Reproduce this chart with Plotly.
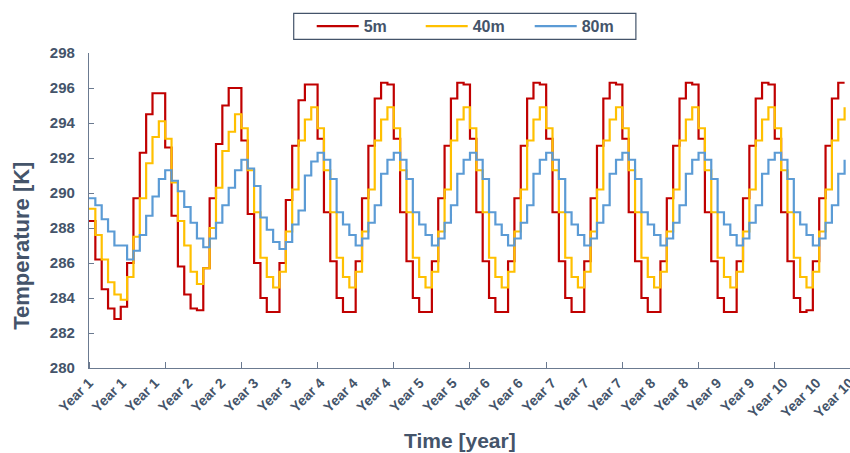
import plotly.graph_objects as go

# ---------------- data (monthly mean temperature, K) ----------------
series_names = ["5m", "40m", "80m"]

temp_5m = [
    288.4, 286.2, 284.5, 283.4, 282.8, 283.5, 286.0, 289.7, 292.3, 294.5, 295.7, 295.7,
    292.6, 288.7, 285.8, 284.2, 283.4, 283.3, 285.7, 289.7, 292.8, 295.0, 296.0, 296.0,
    293.0, 288.8, 286.0, 284.0, 283.2, 283.2, 286.0, 289.6, 292.7, 295.3, 296.2, 296.2,
    293.1, 288.9, 286.1, 284.0, 283.2, 283.2, 286.1, 289.7, 292.7, 295.4, 296.3, 296.2,
    293.1, 288.9, 286.1, 284.0, 283.2, 283.2, 286.1, 289.7, 292.7, 295.4, 296.3, 296.2,
    293.1, 288.9, 286.1, 284.0, 283.2, 283.2, 286.1, 289.7, 292.7, 295.4, 296.3, 296.2,
    293.1, 288.9, 286.1, 284.0, 283.2, 283.2, 286.1, 289.7, 292.7, 295.4, 296.3, 296.2,
    293.1, 288.9, 286.1, 284.0, 283.2, 283.2, 286.1, 289.7, 292.7, 295.4, 296.3, 296.2,
    293.1, 288.9, 286.1, 284.0, 283.2, 283.2, 286.1, 289.7, 292.7, 295.4, 296.3, 296.2,
    293.1, 288.9, 286.1, 284.0, 283.2, 283.3, 286.1, 289.7, 292.7, 295.4, 296.3, 296.3,
]

temp_40m = [
    289.1, 287.6, 286.2, 284.9, 284.2, 283.9, 285.2, 287.5, 289.7, 291.7, 293.2, 294.1,
    293.1, 290.6, 288.4, 287.0, 285.5, 284.8, 285.7, 288.0, 290.3, 292.4, 293.5, 294.5,
    293.7, 291.3, 288.9, 286.3, 285.2, 284.6, 285.5, 287.8, 290.2, 293.0, 294.2, 294.9,
    293.7, 291.3, 288.9, 286.3, 285.2, 284.6, 285.5, 287.8, 290.2, 293.0, 294.2, 294.9,
    293.7, 291.3, 288.9, 286.3, 285.2, 284.6, 285.5, 287.8, 290.2, 293.0, 294.2, 294.9,
    293.7, 291.3, 288.9, 286.3, 285.2, 284.6, 285.5, 287.8, 290.2, 293.0, 294.2, 294.9,
    293.7, 291.3, 288.9, 286.3, 285.2, 284.6, 285.5, 287.8, 290.2, 293.0, 294.2, 294.9,
    293.7, 291.3, 288.9, 286.3, 285.2, 284.6, 285.5, 287.8, 290.2, 293.0, 294.2, 294.9,
    293.7, 291.3, 288.9, 286.3, 285.2, 284.6, 285.5, 287.8, 290.2, 293.0, 294.2, 294.9,
    293.7, 291.3, 288.9, 286.3, 285.2, 284.6, 285.5, 287.8, 290.2, 293.0, 294.2, 294.9,
]

temp_80m = [
    289.7, 289.3, 288.5, 287.8, 287.0, 287.0, 286.2, 286.7, 287.6, 288.7, 289.8, 290.8,
    291.3, 290.7, 290.1, 289.2, 288.3, 287.4, 286.9, 287.4, 288.3, 289.3, 290.3, 291.3,
    291.9, 291.4, 290.4, 288.6, 287.9, 287.2, 286.8, 287.2, 288.2, 289.0, 291.0, 291.8,
    292.3, 291.9, 290.8, 288.9, 288.2, 287.6, 287.0, 287.4, 288.3, 289.3, 291.1, 291.9,
    292.3, 291.9, 290.8, 288.9, 288.2, 287.6, 287.0, 287.4, 288.3, 289.3, 291.1, 291.9,
    292.3, 291.9, 290.8, 288.9, 288.2, 287.6, 287.0, 287.4, 288.3, 289.3, 291.1, 291.9,
    292.3, 291.9, 290.8, 288.9, 288.2, 287.6, 287.0, 287.4, 288.3, 289.3, 291.1, 291.9,
    292.3, 291.9, 290.8, 288.9, 288.2, 287.6, 287.0, 287.4, 288.3, 289.3, 291.1, 291.9,
    292.3, 291.9, 290.8, 288.9, 288.2, 287.6, 287.0, 287.4, 288.3, 289.3, 291.1, 291.9,
    292.3, 291.9, 290.8, 288.9, 288.2, 287.6, 287.0, 287.4, 288.3, 289.3, 291.1, 291.9,
]

months_per_year = 12
y_ticks = [280, 282, 284, 286, 288, 290, 292, 294, 296, 298]

# ---------------- styling ----------------
colors = ["#C00000", "#FFC000", "#5B9BD5"]
text_color = "#44546A"
axis_color = "#6B7A90"
font_family = "Liberation Sans, Arial, sans-serif"

W, H = 850, 453
m_l, m_r, m_t, m_b = 89.4, 0, 52.7, 85.3
plot_w = W - m_l - m_r
plot_h = H - m_t - m_b


def px_x(px):
    return (px - m_l) / plot_w


def px_y(py):
    return (H - m_b - py) / plot_h


label_step = 5.2083          # months between category labels (Excel auto interval)
x_max = 119.85

fig = go.Figure()
for name, vals, col in zip(series_names, [temp_5m, temp_40m, temp_80m], colors):
    fig.add_trace(go.Scatter(
        x=list(range(len(vals))), y=vals, name=name, mode="lines",
        line=dict(color=col, width=2.2, shape="hv"),
    ))

tickvals = []
ticktext = []
k = 0
while k * label_step <= x_max:
    pos = k * label_step
    tickvals.append(pos)
    ticktext.append("Year %d" % (int(pos // months_per_year) + 1))
    k += 1

fig.update_layout(
    width=W, height=H,
    margin=dict(l=m_l, r=m_r, t=m_t, b=m_b, autoexpand=False),
    paper_bgcolor="white", plot_bgcolor="white",
    font=dict(family=font_family, color=text_color, size=13, weight="bold"),
    showlegend=True,
    legend=dict(
        orientation="h", x=px_x(312), xanchor="left", y=px_y(26), yanchor="middle",
        xref="paper", yref="paper",
        borderwidth=0, bgcolor="rgba(0,0,0,0)",
        font=dict(family=font_family, size=16, color=text_color, weight="bold"),
        entrywidth=52, entrywidthmode="pixels",
        itemwidth=42, tracegroupgap=0,
    ),
    shapes=[
        dict(type="rect", xref="paper", yref="paper",
             x0=px_x(294), x1=px_x(636), y0=px_y(13), y1=px_y(39),
             line=dict(color=text_color, width=1.2), fillcolor="rgba(0,0,0,0)",
             layer="below"),
    ],
    xaxis=dict(
        range=[0, x_max], showgrid=False, zeroline=False,
        showline=True, linecolor=axis_color, linewidth=1.3,
        tickmode="array", tickvals=tickvals, ticktext=ticktext,
        ticks="", tickangle=-45, ticklabeloverflow="allow",
        tickfont=dict(family=font_family, size=14, color=text_color, weight="bold"),
        minor=dict(tick0=0, dtick=months_per_year, ticks="inside", ticklen=6,
                   tickcolor=axis_color, tickwidth=1.3, showgrid=False),
    ),
    yaxis=dict(
        range=[280, 298], showgrid=False, zeroline=False,
        showline=True, linecolor=axis_color, linewidth=1.3,
        tickmode="array", tickvals=y_ticks,
        ticks="inside", ticklen=5, tickcolor=axis_color, tickwidth=1.3,
        ticklabelstandoff=10,
        tickfont=dict(family=font_family, size=15, color=text_color, weight="bold"),
    ),
    annotations=[
        dict(text="Time [year]", xref="paper", yref="paper",
             x=px_x(460), y=px_y(440),
             xanchor="center", yanchor="middle", showarrow=False,
             font=dict(family=font_family, size=21, color=text_color, weight="bold")),
        dict(text="Temperature [K]", xref="paper", yref="paper",
             x=px_x(22), y=px_y(246), textangle=-90,
             xanchor="center", yanchor="middle", showarrow=False,
             font=dict(family=font_family, size=22, color=text_color, weight="bold")),
    ],
)

fig.write_html("out.html")
